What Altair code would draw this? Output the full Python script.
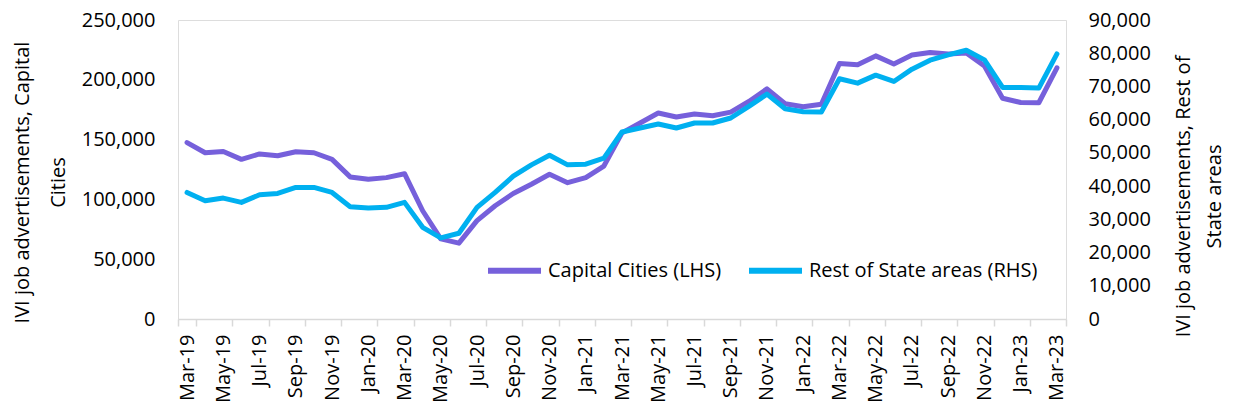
import altair as alt
import pandas as pd

months = ["Mar-19", "Apr-19", "May-19", "Jun-19", "Jul-19", "Aug-19", "Sep-19", "Oct-19", "Nov-19", "Dec-19",
          "Jan-20", "Feb-20", "Mar-20", "Apr-20", "May-20", "Jun-20", "Jul-20", "Aug-20", "Sep-20", "Oct-20",
          "Nov-20", "Dec-20", "Jan-21", "Feb-21", "Mar-21", "Apr-21", "May-21", "Jun-21", "Jul-21", "Aug-21",
          "Sep-21", "Oct-21", "Nov-21", "Dec-21", "Jan-22", "Feb-22", "Mar-22", "Apr-22", "May-22", "Jun-22",
          "Jul-22", "Aug-22", "Sep-22", "Oct-22", "Nov-22", "Dec-22", "Jan-23", "Feb-23", "Mar-23"]

capital = [147500, 139000, 140000, 133500, 138000, 136500, 139800, 139000, 133500, 118800,
           116900, 118200, 121500, 90500, 67000, 63400, 82200, 94700, 104900, 112700,
           121000, 114000, 118200, 127900, 155600, 163900, 172200, 168900, 171400, 170000,
           173000, 181900, 192400, 180000, 177500, 179500, 213700, 212600, 220000, 213200,
           220700, 222900, 221500, 222500, 211500, 184600, 181000, 180800, 210000]

rest = [38100, 35600, 36400, 35100, 37400, 37800, 39600, 39600, 38100, 33800,
        33400, 33600, 35100, 27600, 24400, 25800, 33600, 38100, 43000, 46400,
        49300, 46400, 46600, 48400, 56300, 57500, 58700, 57500, 59000, 59000,
        60500, 64000, 67700, 63300, 62400, 62300, 72300, 71000, 73400, 71500,
        75200, 77900, 79500, 80900, 78000, 69700, 69700, 69500, 79800]

cap_name = "Capital Cities (LHS)"
rest_name = "Rest of State areas (RHS)"
series_names = [cap_name, rest_name]
series_colors = ["#7660DB", "#00B0F0"]

left_ticks = [0, 50000, 100000, 150000, 200000, 250000]
right_ticks = [0, 10000, 20000, 30000, 40000, 50000, 60000, 70000, 80000, 90000]

df = pd.DataFrame({"month": months, "capital": capital, "rest": rest})

FONT = "Open Sans"
FS = 20

x_enc = alt.X(
    "month:O", sort=months,
    scale=alt.Scale(paddingInner=0, paddingOuter=0),
    axis=alt.Axis(values=months[::2], tickBand="extent", labelAngle=270,
                  labelAlign="right", labelBaseline="middle", title=None,
                  labelFont=FONT, labelFontSize=FS, labelColor="#000000",
                  domainColor="#D9D9D9", domainWidth=1.5, tickColor="#D9D9D9",
                  tickWidth=1.5, tickSize=7, labelPadding=8, grid=False),
)

color_scale = alt.Scale(domain=series_names, range=series_colors)
legend = alt.Legend(orient="none", legendX=307, legendY=221, direction="horizontal",
                    symbolType="stroke", symbolSize=2809, symbolStrokeWidth=6,
                    labelFont=FONT, labelFontSize=FS, labelColor="#000000",
                    labelLimit=0, columnPadding=15, labelOffset=4, padding=0, title=None)

base = alt.Chart(df)

left = base.transform_calculate(series=f"'{cap_name}'").mark_line(
    strokeWidth=5, strokeJoin="round", strokeCap="round"
).encode(
    x=x_enc,
    y=alt.Y("capital:Q",
            scale=alt.Scale(domain=[0, 250000], nice=False),
            axis=alt.Axis(values=left_ticks, format=",.0f", orient="left", domain=False,
                          ticks=False, tickSize=0, grid=False, labelPadding=23,
                          labelFont=FONT, labelFontSize=FS, labelColor="#000000",
                          title=["IVI job advertisements, Capital", "Cities"],
                          titleFont=FONT, titleFontSize=FS, titleFontWeight="normal",
                          titleColor="#000000", titleAngle=270, titleAlign="center",
                          titleBaseline="middle", titleLineHeight=36,
                          titleX=-156, titleY=162)),
    color=alt.Color("series:N", scale=color_scale, legend=legend),
)

right = base.transform_calculate(series=f"'{rest_name}'").mark_line(
    strokeWidth=5, strokeJoin="round", strokeCap="round"
).encode(
    x=x_enc,
    y=alt.Y("rest:Q",
            scale=alt.Scale(domain=[0, 90000], nice=False),
            axis=alt.Axis(values=right_ticks, format=",.0f", orient="right", domain=False,
                          ticks=False, tickSize=0, grid=False, labelPadding=22,
                          labelFont=FONT, labelFontSize=FS, labelColor="#000000",
                          title=["IVI job advertisements, Rest of", "State areas"],
                          titleFont=FONT, titleFontSize=FS, titleFontWeight="normal",
                          titleColor="#000000", titleAngle=270, titleAlign="center",
                          titleBaseline="middle", titleLineHeight=31,
                          titleX=117, titleY=176)),
    color=alt.Color("series:N", scale=color_scale, legend=legend),
)

chart = alt.layer(left, right).resolve_scale(y="independent").properties(
    width=888, height=299, autosize="none",
    padding={"left": 170, "top": 12, "right": 162, "bottom": 84},
).configure_view(stroke=None).configure(background="white")

chart.save("out.html", embed_options={"renderer": "svg", "actions": False})
